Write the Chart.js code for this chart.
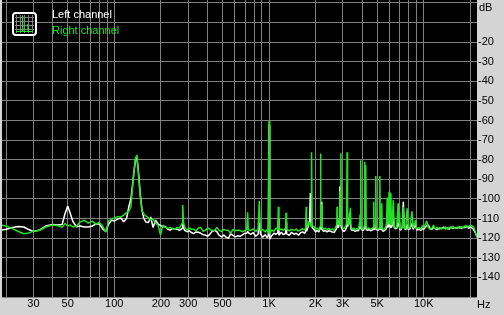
<!DOCTYPE html>
<html>
<head>
<meta charset="utf-8">
<script src="https://cdn.jsdelivr.net/npm/chart.js@4.4.1/dist/chart.umd.min.js"></script>
<style>
  html, body { margin: 0; padding: 0; background: #d4d4d4; }
  canvas { display: block; }
</style>
</head>
<body>
<canvas id="spectrumChart" width="504" height="315"></canvas>
<script>
// ==============================
// Datos del espectro (Hz / dB)
// ==============================
const freqs = [
    18.6, 20, 22, 24, 26, 28, 30, 33, 36, 40,
    43, 46, 48, 50, 52, 54, 57, 60, 64, 68,
    72, 76, 80, 84, 88, 92, 96, 100, 105, 110,
    115, 120, 124, 128, 131, 134, 137, 140, 143, 147,
    151, 155, 160, 166, 172, 178, 185, 192, 199, 206,
    214, 222, 230, 238, 246, 255, 264, 270, 274, 277,
    280, 285, 295, 305, 316, 327, 338, 350, 362, 375,
    388, 402, 416, 430, 445, 460, 476, 493, 510, 528,
    546, 565, 585, 605, 626, 648, 670, 694, 718, 727,
    735, 760, 790, 820, 850, 865, 880, 910, 945, 975,
    990, 1000, 1010, 1040, 1075, 1110, 1140, 1149, 1160, 1200,
    1240, 1280, 1288, 1300, 1350, 1400, 1450, 1500, 1550, 1600,
    1650, 1700, 1725, 1738, 1750, 1790, 1830, 1850, 1870, 1883,
    1900, 1950, 2000, 2050, 2100, 2140, 2153, 2165, 2177, 2195,
    2250, 2310, 2370, 2430, 2500, 2570, 2640, 2700, 2740, 2752,
    2770, 2820, 2850, 2870, 2890, 2913, 2935, 2990, 3050, 3120,
    3170, 3197, 3220, 3280, 3320, 3357, 3390, 3450, 3530, 3610,
    3700, 3790, 3850, 3870, 3895, 3916, 3940, 4010, 4090, 4140,
    4159, 4190, 4220, 4250, 4330, 4430, 4530, 4640, 4730, 4756,
    4780, 4870, 4900, 4930, 5040, 5160, 5203, 5250, 5330, 5357,
    5390, 5500, 5620, 5740, 5808, 5860, 5920, 5970, 6030, 6100,
    6135, 6180, 6250, 6357, 6450, 6560, 6700, 6830, 6880, 6930,
    6990, 7120, 7280, 7380, 7480, 7650, 7812, 7950, 8150, 8398,
    8550, 8850, 9000, 9300, 9600, 9812, 10000, 10450, 10700, 11000,
    11300, 11560, 11800, 12200, 12600, 13000, 13400, 13800, 14200, 14600,
    15000, 15500, 16000, 16500, 17000, 17500, 18000, 18500, 19000, 19500,
    20000, 20500, 21000, 21500, 22000, 22400
];

// canal izquierdo (blanco)
const leftChannel = [
    -115.9, -115.4, -114.6, -114.0, -114.3, -115.6, -116.6, -115.8, -113.8, -113.0,
    -113.3, -113.0, -107.5, -103.6, -107.5, -111.5, -114.2, -113.8, -114.3, -114.3,
    -113.8, -112.8, -112.6, -115.3, -116.6, -112.8, -110.8, -111.3, -110.3, -109.7,
    -111.6, -110.0, -104.1, -100.0, -93.4, -86.3, -80.2, -78.9, -85.3, -97.0,
    -105.7, -109.7, -111.8, -112.0, -109.2, -114.5, -110.8, -112.8, -113.5, -114.2,
    -114.0, -115.5, -115.9, -115.0, -115.5, -115.5, -116.0, -115.5, -115.0, -112.0,
    -114.5, -116.0, -116.7, -116.2, -117.2, -117.6, -116.8, -117.0, -117.5, -118.2,
    -118.4, -119.0, -117.8, -116.5, -116.0, -116.7, -118.5, -119.3, -118.4, -119.5,
    -120.1, -117.8, -118.5, -119.3, -118.8, -119.0, -118.4, -117.6, -117.5, -116.5,
    -117.2, -118.0, -117.2, -119.0, -118.0, -112.0, -117.8, -119.5, -118.2, -119.8,
    -118.5, -62.0, -120.5, -118.8, -117.5, -118.0, -117.2, -110.0, -118.5, -117.0,
    -118.2, -117.5, -112.0, -117.8, -118.5, -117.0, -118.0, -117.5, -118.5, -117.2,
    -116.8, -117.5, -116.5, -111.0, -116.5, -114.0, -111.0, -97.0, -113.0, -112.0,
    -114.5, -115.5, -116.8, -116.0, -116.8, -115.0, -114.0, -109.0, -101.4, -115.5,
    -116.5, -116.0, -116.8, -116.2, -116.5, -116.8, -117.0, -115.8, -115.0, -112.0,
    -114.0, -114.5, -110.0, -93.6, -112.0, -113.0, -114.5, -116.0, -116.5, -115.8,
    -114.5, -113.0, -114.0, -112.0, -107.0, -113.0, -115.5, -116.0, -115.8, -116.5,
    -116.0, -116.2, -114.0, -112.0, -115.0, -113.5, -115.2, -116.0, -115.8, -115.0,
    -114.5, -114.0, -113.5, -115.5, -116.0, -115.5, -116.2, -115.8, -115.5, -113.0,
    -115.6, -115.0, -113.0, -115.5, -116.0, -115.5, -114.0, -115.8, -115.0, -112.0,
    -116.0, -116.5, -115.8, -115.0, -108.0, -114.5, -113.5, -110.0, -114.0, -114.5,
    -111.0, -114.5, -113.5, -108.7, -114.5, -115.2, -115.0, -110.0, -114.0, -112.0,
    -115.5, -115.8, -114.0, -101.4, -114.5, -115.8, -113.0, -115.6, -115.2, -112.5,
    -115.5, -113.0, -115.8, -115.4, -116.0, -115.0, -115.5, -113.5, -113.3, -115.0,
    -115.5, -114.5, -115.0, -115.6, -114.8, -115.2, -114.4, -115.2, -114.7, -115.4,
    -114.3, -115.0, -114.6, -114.9, -114.2, -115.0, -114.4, -114.6, -113.8, -115.0,
    -114.2, -114.8, -115.5, -117.0, -119.2, -119.6
];

// canal derecho (verde)
const rightChannel = [
    -113.3, -113.8, -115.1, -116.6, -117.7, -117.4, -116.4, -116.0, -114.3, -113.3,
    -113.6, -114.5, -112.5, -113.8, -113.3, -114.3, -113.8, -111.8, -110.8, -112.3,
    -111.3, -112.8, -112.0, -113.8, -116.9, -111.3, -110.3, -109.7, -109.0, -109.2,
    -108.2, -107.0, -106.2, -104.1, -94.4, -85.8, -79.1, -77.6, -86.8, -98.5,
    -105.7, -107.7, -108.7, -109.5, -110.8, -110.2, -112.5, -113.3, -118.4, -113.3,
    -114.5, -115.0, -114.5, -115.2, -115.5, -114.5, -114.8, -113.5, -112.5, -103.1,
    -112.0, -114.5, -115.9, -114.8, -115.5, -115.5, -116.2, -114.8, -114.5, -116.5,
    -116.0, -114.8, -115.5, -116.2, -116.0, -114.5, -116.0, -116.7, -115.5, -115.9,
    -116.0, -117.6, -115.5, -116.2, -115.9, -116.0, -116.7, -116.2, -115.5, -106.8,
    -115.8, -116.0, -115.2, -116.5, -115.5, -101.0, -116.2, -115.5, -116.8, -115.6,
    -117.5, -60.2, -118.0, -115.8, -116.5, -114.8, -115.5, -104.0, -116.0, -115.2,
    -116.0, -115.0, -107.0, -115.5, -116.2, -115.5, -116.0, -115.4, -116.4, -115.7,
    -115.2, -115.8, -115.0, -104.0, -114.8, -113.0, -112.0, -113.0, -114.0, -76.2,
    -113.5, -114.0, -115.5, -114.8, -115.8, -114.0, -76.8, -112.0, -103.0, -114.0,
    -115.5, -114.8, -115.6, -115.0, -115.8, -115.2, -116.0, -114.5, -113.0, -104.0,
    -112.5, -113.0, -112.0, -96.0, -113.0, -76.7, -112.0, -114.8, -115.2, -114.0,
    -112.5, -76.2, -112.5, -113.0, -110.0, -104.5, -114.0, -115.5, -114.8, -116.0,
    -115.0, -115.5, -112.0, -108.0, -114.0, -80.3, -114.0, -115.5, -115.0, -113.5,
    -81.0, -112.0, -82.8, -114.5, -115.2, -114.8, -115.6, -115.0, -114.5, -101.4,
    -114.5, -114.0, -88.3, -114.8, -115.5, -114.8, -88.3, -115.0, -114.0, -102.2,
    -115.2, -115.8, -114.8, -113.5, -99.2, -113.0, -112.0, -96.3, -112.5, -113.0,
    -97.1, -113.5, -112.5, -100.6, -114.0, -114.8, -114.0, -102.2, -112.5, -107.0,
    -114.8, -115.2, -114.5, -104.0, -114.8, -115.2, -104.8, -115.0, -114.5, -106.3,
    -114.8, -110.8, -115.2, -114.6, -115.4, -113.5, -114.8, -111.2, -114.5, -115.5,
    -114.8, -113.3, -115.2, -114.5, -115.6, -114.6, -115.3, -114.2, -115.4, -114.4,
    -115.0, -114.0, -115.2, -114.3, -115.0, -114.0, -114.8, -113.6, -114.6, -114.0,
    -113.4, -113.8, -114.2, -116.5, -119.0, -119.6
];

// ejes
const xGridFreqs = [20, 30, 40, 50, 60, 70, 80, 90, 100, 200, 300, 400, 500, 600, 700, 800, 900,
    1000, 2000, 3000, 4000, 5000, 6000, 7000, 8000, 9000, 10000, 20000];
const xLabelFreqs = [30, 50, 100, 200, 300, 500, 1000, 2000, 3000, 5000, 10000];
const xLabelTexts = ['30', '50', '100', '200', '300', '500', '1K', '2K', '3K', '5K', '10K'];
const yGridValues = [0, -10, -20, -30, -40, -50, -60, -70, -80, -90, -100, -110, -120, -130, -140, -150];
const yLabelValues = [-20, -30, -40, -50, -60, -70, -80, -90, -100, -110, -120, -130, -140];

const seriesNames = ['Left channel', 'Right channel'];

// ==============================
// Estilos
// ==============================
const FONT = "'Liberation Sans', Arial, sans-serif";
const GREEN = '#22e022';
const GRID = '#808080';
const PANEL = '#d4d4d4';

// ==============================
// Plugin: fondo, leyenda y unidades
// ==============================
const analyzerPanel = {
    id: 'analyzerPanel',
    beforeDraw(chart) {
        const { ctx, chartArea: a } = chart;
        ctx.save();
        ctx.fillStyle = PANEL;
        ctx.fillRect(0, 0, chart.width, chart.height);
        ctx.fillStyle = '#000';
        ctx.fillRect(a.left, a.top, a.right - a.left, a.bottom - a.top);
        ctx.restore();
    },
    afterDraw(chart) {
        const { ctx } = chart;
        ctx.save();

        // icono de la leyenda
        ctx.fillStyle = '#000';
        ctx.fillRect(14, 14, 21, 20);
        ctx.strokeStyle = GRID;
        ctx.lineWidth = 1;
        ctx.beginPath();
        [16.5, 20.5, 24.5, 28.5, 32.5].forEach(x => { ctx.moveTo(x, 15); ctx.lineTo(x, 33); });
        [17.5, 21.5, 25.5, 29.5].forEach(y => { ctx.moveTo(15, y); ctx.lineTo(34, y); });
        ctx.stroke();
        ctx.strokeStyle = GREEN;
        ctx.beginPath();
        ctx.moveTo(16, 31.5);
        ctx.lineTo(20.5, 31.5); ctx.lineTo(20.5, 29); ctx.lineTo(21, 31.5);
        ctx.lineTo(22.5, 31.5); ctx.lineTo(22.5, 15.5); ctx.lineTo(23, 31.5);
        ctx.lineTo(28, 31.5); ctx.lineTo(28, 24); ctx.lineTo(28.5, 31.5);
        ctx.lineTo(33, 31.5);
        ctx.stroke();
        ctx.strokeStyle = '#fff';
        ctx.lineWidth = 2;
        ctx.beginPath();
        ctx.roundRect(13, 13, 23, 22, 3);
        ctx.stroke();

        ctx.font = '11px ' + FONT;
        ctx.textBaseline = 'middle';
        ctx.textAlign = 'left';
        ctx.fillStyle = '#fff';
        ctx.fillText(seriesNames[0], 52, 15);
        ctx.fillStyle = GREEN;
        ctx.fillText(seriesNames[1], 52, 31);

        // unidades
        ctx.fillStyle = '#000';
        ctx.fillText('dB', 479, 8);
        ctx.fillText('Hz', 477, 305);
        ctx.restore();
    }
};

// ==============================
// Gráfico
// ==============================
const ctx = document.getElementById('spectrumChart');

new Chart(ctx, {
    type: 'line',
    data: {
        datasets: [
            {
                label: seriesNames[0],
                data: freqs.map((f, i) => ({ x: f, y: leftChannel[i] })),
                borderColor: '#ffffff',
                borderWidth: 1.5,
                borderJoinStyle: 'bevel',
                pointRadius: 0,
                tension: 0,
                order: 1
            },
            {
                label: seriesNames[1],
                data: freqs.map((f, i) => ({ x: f, y: rightChannel[i] })),
                borderColor: GREEN,
                borderWidth: 1.5,
                borderJoinStyle: 'bevel',
                pointRadius: 0,
                tension: 0,
                order: 0
            }
        ]
    },
    options: {
        responsive: false,
        animation: false,
        devicePixelRatio: 1,
        events: [],
        layout: { padding: { left: 2, top: 0, right: 0, bottom: 0 } },
        plugins: {
            legend: { display: false },
            tooltip: { enabled: false }
        },
        scales: {
            x: {
                type: 'logarithmic',
                min: 18.8,
                max: 22100,
                bounds: 'data',
                grid: { color: GRID, lineWidth: 1, drawTicks: false },
                border: { display: false },
                ticks: {
                    autoSkip: false,
                    maxRotation: 0,
                    minRotation: 0,
                    padding: 0,
                    color: '#000',
                    font: { family: FONT, size: 11 },
                    callback: (v) => {
                        const i = xLabelFreqs.indexOf(v);
                        return i >= 0 ? xLabelTexts[i] : '';
                    }
                },
                afterBuildTicks: (scale) => {
                    scale.ticks = xGridFreqs.map(v => ({ value: v }));
                },
                afterFit: (scale) => {
                    scale.height = 18;
                    scale.paddingLeft = 0;
                    scale.paddingRight = 0;
                }
            },
            y: {
                type: 'linear',
                position: 'right',
                min: -150,
                max: 1.5,
                grid: { color: GRID, lineWidth: 1, drawTicks: false },
                border: { display: false },
                ticks: {
                    padding: 1,
                    color: '#000',
                    font: { family: FONT, size: 11 },
                    callback: (v) => yLabelValues.includes(v) ? String(v) : ''
                },
                afterBuildTicks: (scale) => {
                    scale.ticks = yGridValues.map(v => ({ value: v }));
                },
                afterFit: (scale) => {
                    scale.width = 27;
                    scale.paddingTop = 0;
                    scale.paddingBottom = 0;
                }
            }
        }
    },
    plugins: [analyzerPanel]
});
</script>
</body>
</html>
